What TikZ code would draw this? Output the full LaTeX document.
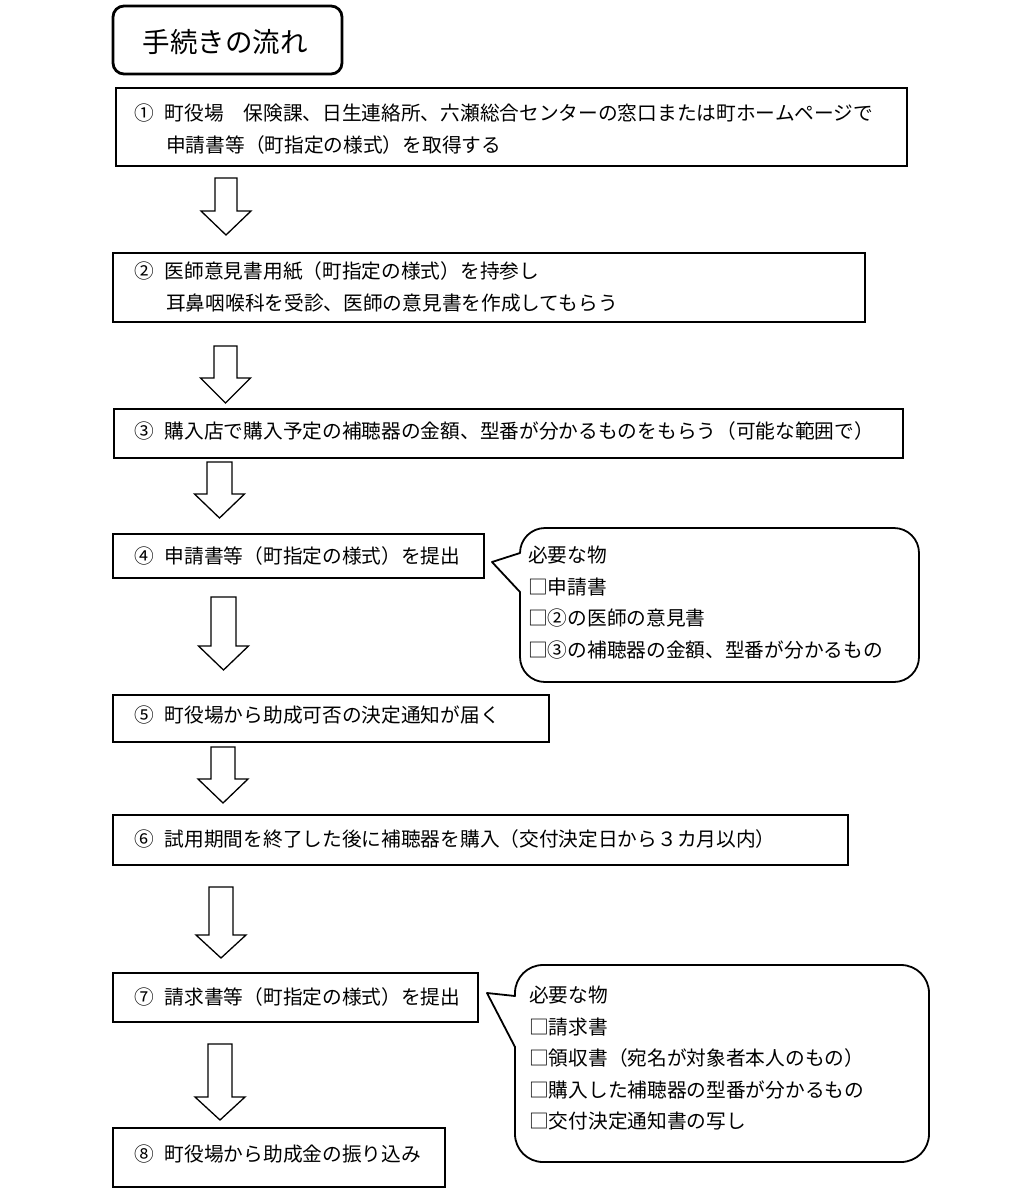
\documentclass[tikz,border=0pt]{standalone}
\usepackage{fontspec}
\setmainfont{Noto Sans CJK JP}
\usetikzlibrary{fit}
\newcommand{\blockarr}[5]{% cx, top, head start, tip, shaft half width
  \draw[blockarrow] (#1-#5,#2) -- (#1+#5,#2) -- (#1+#5,#3) -- (#1+25,#3) -- (#1,#4) -- (#1-25,#3) -- (#1-#5,#3) -- cycle;}
\begin{document}
\begin{tikzpicture}[x=1pt,y=-1pt,
  stepbox/.style={draw, line width=1.8pt, inner sep=0pt},
  titlebox/.style={draw, line width=2.8pt, rounded corners=11pt, inner sep=0pt},
  steptext/.style={anchor=west, align=left, inner sep=0pt, font=\fontsize{19.7pt}{31.5pt}\selectfont},
  notetext/.style={anchor=west, align=left, inner sep=0pt, font=\fontsize{19.7pt}{31.5pt}\selectfont},
  blockarrow/.style={draw, line width=1.3pt, line join=miter, fill=white},
  calloutline/.style={draw, line width=1.8pt, line cap=round, line join=round}]
\useasboundingbox (0,0) rectangle (1019,1197);
\fill[white] (0,0) rectangle (1019,1197);

% title
\node[titlebox, fit={(113,6) (342,74)}] (title) {};
\node[inner sep=0pt, font=\fontsize{27.5pt}{30pt}\selectfont] (titletext) at (225,42) {手続きの流れ};

% step boxes
\node[stepbox, fit={(116,88) (907,166)}] (b1) {};
\node[steptext] (t1) at (134,129) {①\hspace{11pt}町役場　保険課、日生連絡所、六瀬総合センターの窓口または町ホームページで\\\hspace{32pt}申請書等（町指定の様式）を取得する};

\node[stepbox, fit={(113,253) (865,322)}] (b2) {};
\node[steptext] (t2) at (134,287) {②\hspace{11pt}医師意見書用紙（町指定の様式）を持参し\\\hspace{32pt}耳鼻咽喉科を受診、医師の意見書を作成してもらう};

\node[stepbox, fit={(114,409) (903,458)}] (b3) {};
\node[steptext] (t3) at (134,431) {③\hspace{11pt}購入店で購入予定の補聴器の金額、型番が分かるものをもらう（可能な範囲で）};

\node[stepbox, fit={(113,534) (484,578)}] (b4) {};
\node[steptext] (t4) at (134,556) {④\hspace{11pt}申請書等（町指定の様式）を提出};

\node[stepbox, fit={(113,695) (549,742)}] (b5) {};
\node[steptext] (t5) at (134,715) {⑤\hspace{11pt}町役場から助成可否の決定通知が届く};

\node[stepbox, fit={(113,815) (848,865)}] (b6) {};
\node[steptext] (t6) at (134,839) {⑥\hspace{11pt}試用期間を終了した後に補聴器を購入（交付決定日から３カ月以内）};

\node[stepbox, fit={(113,973) (478,1022)}] (b7) {};
\node[steptext] (t7) at (134,997) {⑦\hspace{11pt}請求書等（町指定の様式）を提出};

\node[stepbox, fit={(113,1128) (445,1187)}] (b8) {};
\node[steptext] (t8) at (134,1154) {⑧\hspace{11pt}町役場から助成金の振り込み};

% block arrows
\blockarr{226}{178}{211}{235}{11}
\blockarr{225.5}{346}{378}{403}{11.5}
\blockarr{219.5}{462}{494}{518}{12.5}
\blockarr{223.5}{597}{646}{670}{12.5}
\blockarr{223}{747}{779}{803}{12}
\blockarr{221}{887}{935}{958}{12}
\blockarr{220}{1044}{1097}{1120}{12}

% callout 1
\draw[calloutline, rounded corners=25pt] (520,553) -- (520,528) -- (919,528) -- (919,682) -- (520,682) -- (520,592);
\draw[calloutline] (520,553) -- (492,562) -- (520,592);
\node[notetext] (n1) at (528,602.5) {必要な物\\□申請書\\□②の医師の意見書\\□③の補聴器の金額、型番が分かるもの};

% callout 2
\draw[calloutline, rounded corners=28pt] (515,996) -- (515,965) -- (929,965) -- (929,1162) -- (515,1162) -- (515,1047);
\draw[calloutline] (515,996) -- (487,993) -- (515,1047);
\node[notetext] (n2) at (529,1058.5) {必要な物\\□請求書\\□領収書（宛名が対象者本人のもの）\\□購入した補聴器の型番が分かるもの\\□交付決定通知書の写し};
\end{tikzpicture}
\end{document}
